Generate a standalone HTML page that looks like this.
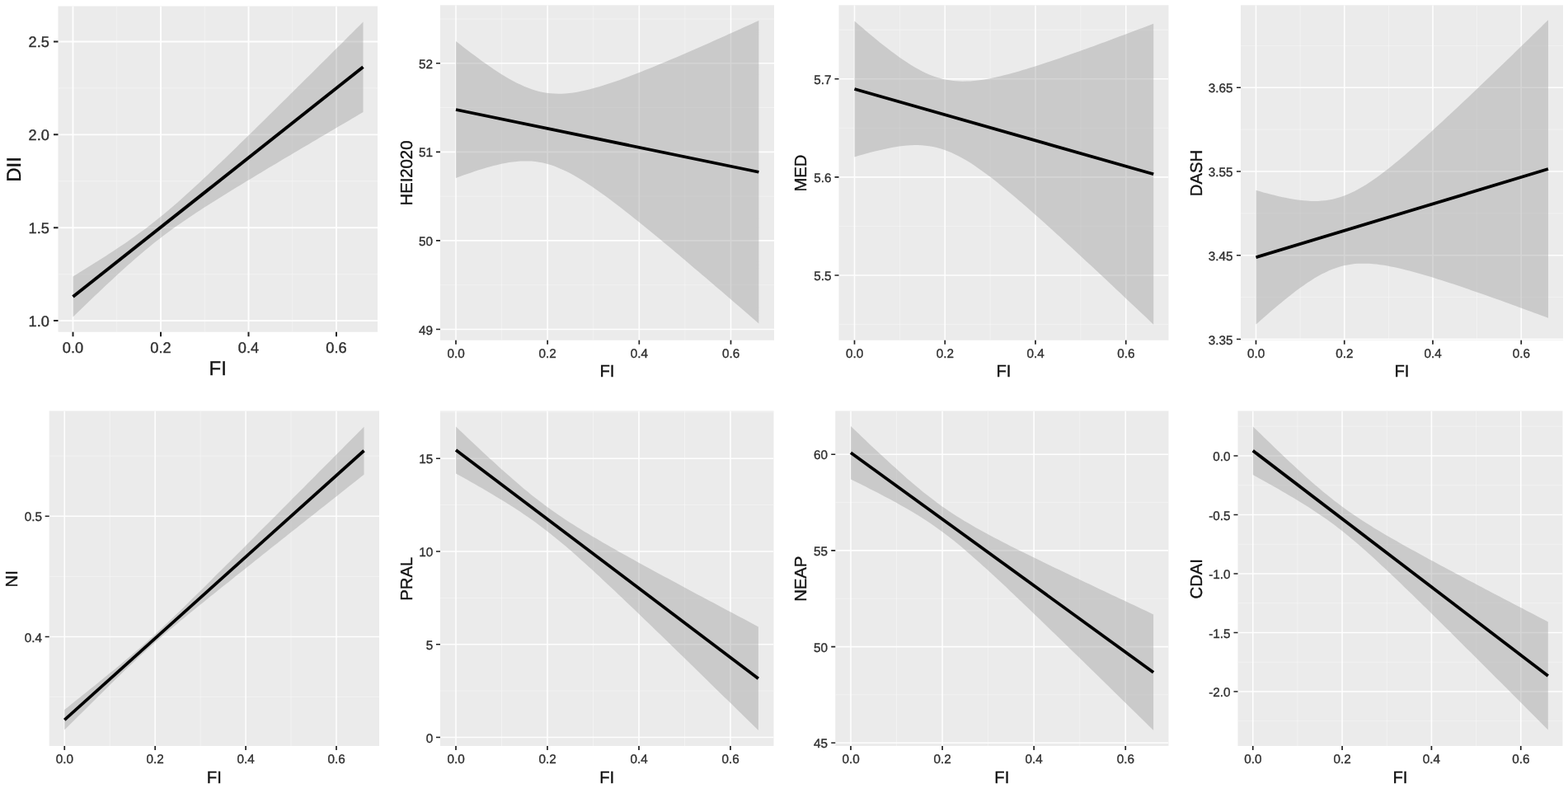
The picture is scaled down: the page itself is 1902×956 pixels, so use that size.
<!DOCTYPE html>
<html lang="en">
<head>
<meta charset="utf-8">
<title>Association between FI and dietary indices</title>
<style>
html,body{margin:0;padding:0;background:#fff;}
body{width:1902px;height:956px;overflow:hidden;}
svg{display:block;font-family:"Liberation Sans",Arial,Helvetica,sans-serif;text-rendering:geometricPrecision;}
</style>
</head>
<body>
<svg width="1902" height="956" viewBox="0 0 1902 956">
<rect width="1902" height="956" fill="#fff"/>
<clipPath id="c0"><rect x="70.5" y="7.5" width="387.5" height="395.25"/></clipPath>
<rect x="70.5" y="7.5" width="387.5" height="395.25" fill="#ebebeb"/>
<g clip-path="url(#c0)">
<path d="M141.75 7.5V402.75M248.25 7.5V402.75M354.75 7.5V402.75M70.5 332.67H458M70.5 219.8H458M70.5 106.93H458" stroke="#fff" stroke-opacity="0.35" stroke-width="1" fill="none"/>
<path d="M88.5 7.5V402.75M195 7.5V402.75M301.5 7.5V402.75M408 7.5V402.75M70.5 389.1H458M70.5 276.23H458M70.5 163.37H458M70.5 50.5H458" stroke="#fff" stroke-opacity="0.92" stroke-width="1.9" fill="none"/>
<polygon points="88.5,335.4 92.9,332.7 97.3,330.0 101.7,327.3 106.1,324.6 110.5,321.8 114.9,319.1 119.3,316.3 123.7,313.5 128.1,310.7 132.5,307.8 136.9,305.0 141.3,302.1 145.7,299.1 150.1,296.2 154.5,293.2 158.9,290.1 163.3,287.0 167.7,283.8 172.1,280.6 176.5,277.4 180.9,274.0 185.3,270.6 189.7,267.1 194.1,263.6 198.5,260.0 202.9,256.3 207.3,252.6 211.7,248.8 216.1,244.9 220.5,241.0 224.9,237.1 229.3,233.1 233.7,229.1 238.1,225.0 242.5,220.9 246.9,216.8 251.3,212.7 255.7,208.5 260.1,204.3 264.5,200.1 268.9,195.9 273.3,191.7 277.7,187.4 282.1,183.2 286.5,178.9 290.9,174.6 295.3,170.3 299.7,166.0 304.1,161.7 308.5,157.4 312.9,153.1 317.3,148.8 321.7,144.4 326.1,140.1 330.5,135.8 334.9,131.4 339.3,127.1 343.7,122.7 348.1,118.4 352.5,114.0 356.9,109.7 361.3,105.3 365.7,101.0 370.1,96.6 374.5,92.2 378.9,87.9 383.3,83.5 387.7,79.1 392.1,74.7 396.5,70.4 400.9,66.0 405.3,61.6 409.7,57.2 414.1,52.9 418.5,48.5 422.9,44.1 427.3,39.7 431.7,35.3 436.1,30.9 440.5,26.6 440.5,136.1 436.1,138.6 431.7,141.2 427.3,143.8 422.9,146.4 418.5,149.0 414.1,151.5 409.7,154.1 405.3,156.7 400.9,159.3 396.5,161.9 392.1,164.5 387.7,167.1 383.3,169.7 378.9,172.3 374.5,174.9 370.1,177.5 365.7,180.1 361.3,182.7 356.9,185.3 352.5,187.9 348.1,190.5 343.7,193.1 339.3,195.8 334.9,198.4 330.5,201.0 326.1,203.6 321.7,206.3 317.3,208.9 312.9,211.6 308.5,214.2 304.1,216.9 299.7,219.5 295.3,222.2 290.9,224.9 286.5,227.6 282.1,230.3 277.7,233.0 273.3,235.7 268.9,238.4 264.5,241.2 260.1,243.9 255.7,246.7 251.3,249.5 246.9,252.3 242.5,255.2 238.1,258.1 233.7,261.0 229.3,263.9 224.9,266.9 220.5,269.9 216.1,273.0 211.7,276.1 207.3,279.3 202.9,282.5 198.5,285.8 194.1,289.2 189.7,292.6 185.3,296.1 180.9,299.7 176.5,303.3 172.1,307.0 167.7,310.7 163.3,314.6 158.9,318.4 154.5,322.3 150.1,326.3 145.7,330.3 141.3,334.3 136.9,338.4 132.5,342.5 128.1,346.6 123.7,350.8 119.3,354.9 114.9,359.1 110.5,363.3 106.1,367.6 101.7,371.8 97.3,376.1 92.9,380.3 88.5,384.6" fill="#999" fill-opacity="0.4"/>
<line x1="88.5" y1="360" x2="440.48" y2="81.3" stroke="#000" stroke-width="4.0"/>
</g>
<path d="M88.5 402.75v5.5M195 402.75v5.5M301.5 402.75v5.5M408 402.75v5.5M70.5 389.1h-5.5M70.5 276.23h-5.5M70.5 163.37h-5.5M70.5 50.5h-5.5" stroke="#222" stroke-width="2.0" fill="none"/>
<g font-size="18.2" fill="#2e2e2e" stroke="#2e2e2e" stroke-width="0.35">
<text transform="translate(88.5 427.5)" text-anchor="middle">0.0</text>
<text transform="translate(195 427.5)" text-anchor="middle">0.2</text>
<text transform="translate(301.5 427.5)" text-anchor="middle">0.4</text>
<text transform="translate(408 427.5)" text-anchor="middle">0.6</text>
<text transform="translate(59.88 396)" text-anchor="end">1.0</text>
<text transform="translate(59.88 283.13)" text-anchor="end">1.5</text>
<text transform="translate(59.88 170.27)" text-anchor="end">2.0</text>
<text transform="translate(59.88 57.4)" text-anchor="end">2.5</text>
</g>
<text transform="translate(264.25 454.5)" text-anchor="middle" font-size="24" stroke="#111" stroke-width="0.35" fill="#111">FI</text>
<text transform="translate(25.3 205.43) rotate(-90)" text-anchor="middle" font-size="24" stroke="#111" stroke-width="0.35" fill="#111">DII</text>
<clipPath id="c1"><rect x="534" y="6.25" width="405" height="406.55"/></clipPath>
<rect x="534" y="6.25" width="405" height="406.55" fill="#ebebeb"/>
<g clip-path="url(#c1)">
<path d="M608.58 6.25V412.8M719.75 6.25V412.8M830.92 6.25V412.8M534 345.71H939M534 238.12H939M534 130.54H939M534 22.96H939" stroke="#fff" stroke-opacity="0.35" stroke-width="1" fill="none"/>
<path d="M553 6.25V412.8M664.17 6.25V412.8M775.33 6.25V412.8M886.5 6.25V412.8M534 399.5H939M534 291.92H939M534 184.33H939M534 76.75H939" stroke="#fff" stroke-opacity="0.92" stroke-width="1.6" fill="none"/>
<polygon points="553.0,50.0 557.6,53.6 562.2,57.2 566.8,60.7 571.4,64.2 576.0,67.6 580.6,71.0 585.1,74.4 589.7,77.6 594.3,80.8 598.9,83.9 603.5,87.0 608.1,89.9 612.7,92.7 617.3,95.4 621.9,98.0 626.5,100.4 631.1,102.6 635.7,104.7 640.3,106.6 644.9,108.2 649.4,109.7 654.0,110.9 658.6,111.9 663.2,112.7 667.8,113.3 672.4,113.6 677.0,113.7 681.6,113.7 686.2,113.4 690.8,113.0 695.4,112.4 700.0,111.7 704.6,110.8 709.1,109.8 713.7,108.8 718.3,107.6 722.9,106.3 727.5,105.0 732.1,103.6 736.7,102.1 741.3,100.6 745.9,99.0 750.5,97.4 755.1,95.7 759.7,94.0 764.3,92.3 768.9,90.6 773.4,88.8 778.0,87.0 782.6,85.1 787.2,83.3 791.8,81.4 796.4,79.5 801.0,77.6 805.6,75.7 810.2,73.8 814.8,71.8 819.4,69.9 824.0,67.9 828.6,65.9 833.1,63.9 837.7,61.9 842.3,59.9 846.9,57.9 851.5,55.9 856.1,53.9 860.7,51.9 865.3,49.8 869.9,47.8 874.5,45.7 879.1,43.7 883.7,41.6 888.3,39.5 892.9,37.5 897.4,35.4 902.0,33.3 906.6,31.3 911.2,29.2 915.8,27.1 920.4,25.0 920.4,392.5 915.8,388.5 911.2,384.5 906.6,380.6 902.0,376.6 897.4,372.6 892.9,368.7 888.3,364.7 883.7,360.7 879.1,356.8 874.5,352.8 869.9,348.9 865.3,345.0 860.7,341.0 856.1,337.1 851.5,333.2 846.9,329.3 842.3,325.4 837.7,321.5 833.1,317.6 828.6,313.7 824.0,309.8 819.4,306.0 814.8,302.1 810.2,298.3 805.6,294.4 801.0,290.6 796.4,286.8 791.8,283.1 787.2,279.3 782.6,275.5 778.0,271.8 773.4,268.1 768.9,264.4 764.3,260.8 759.7,257.2 755.1,253.6 750.5,250.0 745.9,246.5 741.3,243.1 736.7,239.6 732.1,236.3 727.5,233.0 722.9,229.8 718.3,226.6 713.7,223.5 709.1,220.6 704.6,217.7 700.0,214.9 695.4,212.3 690.8,209.8 686.2,207.5 681.6,205.4 677.0,203.4 672.4,201.6 667.8,200.1 663.2,198.7 658.6,197.6 654.0,196.7 649.4,196.1 644.9,195.6 640.3,195.4 635.7,195.4 631.1,195.6 626.5,195.9 621.9,196.4 617.3,197.1 612.7,197.9 608.1,198.8 603.5,199.9 598.9,201.0 594.3,202.2 589.7,203.5 585.1,204.9 580.6,206.3 576.0,207.8 571.4,209.4 566.8,211.0 562.2,212.6 557.6,214.3 553.0,216.0" fill="#999" fill-opacity="0.4"/>
<line x1="553" y1="133" x2="920.41" y2="208.75" stroke="#000" stroke-width="3.8"/>
</g>
<path d="M553 412.8v5M664.17 412.8v5M775.33 412.8v5M886.5 412.8v5M534 399.5h-5M534 291.92h-5M534 184.33h-5M534 76.75h-5" stroke="#222" stroke-width="1.7" fill="none"/>
<g font-size="15.3" fill="#2e2e2e" stroke="#2e2e2e" stroke-width="0.35">
<text transform="translate(553 433.9)" text-anchor="middle">0.0</text>
<text transform="translate(664.17 433.9)" text-anchor="middle">0.2</text>
<text transform="translate(775.33 433.9)" text-anchor="middle">0.4</text>
<text transform="translate(886.5 433.9)" text-anchor="middle">0.6</text>
<text transform="translate(525.11 405.5)" text-anchor="end">49</text>
<text transform="translate(525.11 297.92)" text-anchor="end">50</text>
<text transform="translate(525.11 190.33)" text-anchor="end">51</text>
<text transform="translate(525.11 82.75)" text-anchor="end">52</text>
</g>
<text transform="translate(736.5 457.25)" text-anchor="middle" font-size="20.3" stroke="#111" stroke-width="0.35" fill="#111">FI</text>
<text transform="translate(500.25 210.03) rotate(-90)" text-anchor="middle" font-size="20.3" stroke="#111" stroke-width="0.35" fill="#111">HEI2020</text>
<clipPath id="c2"><rect x="1017.5" y="6.25" width="400" height="406.55"/></clipPath>
<rect x="1017.5" y="6.25" width="400" height="406.55" fill="#ebebeb"/>
<g clip-path="url(#c2)">
<path d="M1091.38 6.25V412.8M1201.12 6.25V412.8M1310.88 6.25V412.8M1017.5 393.56H1417.5M1017.5 274.44H1417.5M1017.5 155.31H1417.5M1017.5 36.19H1417.5" stroke="#fff" stroke-opacity="0.35" stroke-width="1" fill="none"/>
<path d="M1036.5 6.25V412.8M1146.25 6.25V412.8M1256 6.25V412.8M1365.75 6.25V412.8M1017.5 334H1417.5M1017.5 214.88H1417.5M1017.5 95.75H1417.5" stroke="#fff" stroke-opacity="0.92" stroke-width="1.6" fill="none"/>
<polygon points="1036.5,25.5 1041.0,29.4 1045.6,33.3 1050.1,37.2 1054.6,41.0 1059.2,44.8 1063.7,48.5 1068.2,52.2 1072.8,55.8 1077.3,59.3 1081.8,62.7 1086.4,66.1 1090.9,69.4 1095.4,72.5 1100.0,75.5 1104.5,78.4 1109.0,81.2 1113.6,83.7 1118.1,86.2 1122.6,88.4 1127.2,90.4 1131.7,92.2 1136.2,93.8 1140.8,95.1 1145.3,96.2 1149.9,97.1 1154.4,97.8 1158.9,98.3 1163.5,98.6 1168.0,98.7 1172.5,98.6 1177.1,98.4 1181.6,98.0 1186.1,97.5 1190.7,96.9 1195.2,96.2 1199.7,95.4 1204.3,94.5 1208.8,93.5 1213.3,92.4 1217.9,91.3 1222.4,90.2 1226.9,89.0 1231.5,87.7 1236.0,86.4 1240.5,85.1 1245.1,83.7 1249.6,82.3 1254.1,80.9 1258.7,79.5 1263.2,78.0 1267.7,76.5 1272.3,75.0 1276.8,73.5 1281.3,71.9 1285.9,70.4 1290.4,68.8 1294.9,67.2 1299.5,65.6 1304.0,64.0 1308.5,62.4 1313.1,60.8 1317.6,59.2 1322.1,57.5 1326.7,55.9 1331.2,54.2 1335.7,52.5 1340.3,50.9 1344.8,49.2 1349.3,47.5 1353.9,45.8 1358.4,44.1 1363.0,42.4 1367.5,40.7 1372.0,39.0 1376.6,37.3 1381.1,35.6 1385.6,33.9 1390.2,32.2 1394.7,30.5 1399.2,28.8 1399.2,393.8 1394.7,389.4 1390.2,385.1 1385.6,380.8 1381.1,376.5 1376.6,372.3 1372.0,368.0 1367.5,363.7 1363.0,359.4 1358.4,355.1 1353.9,350.9 1349.3,346.6 1344.8,342.3 1340.3,338.1 1335.7,333.8 1331.2,329.6 1326.7,325.3 1322.1,321.1 1317.6,316.9 1313.1,312.7 1308.5,308.5 1304.0,304.3 1299.5,300.1 1294.9,295.9 1290.4,291.7 1285.9,287.6 1281.3,283.5 1276.8,279.3 1272.3,275.2 1267.7,271.1 1263.2,267.1 1258.7,263.0 1254.1,259.0 1249.6,255.0 1245.1,251.0 1240.5,247.1 1236.0,243.2 1231.5,239.3 1226.9,235.4 1222.4,231.7 1217.9,227.9 1213.3,224.2 1208.8,220.6 1204.3,217.0 1199.7,213.6 1195.2,210.2 1190.7,206.9 1186.1,203.7 1181.6,200.6 1177.1,197.6 1172.5,194.8 1168.0,192.2 1163.5,189.7 1158.9,187.4 1154.4,185.3 1149.9,183.4 1145.3,181.7 1140.8,180.3 1136.2,179.0 1131.7,178.0 1127.2,177.2 1122.6,176.7 1118.1,176.3 1113.6,176.1 1109.0,176.1 1104.5,176.3 1100.0,176.6 1095.4,177.1 1090.9,177.6 1086.4,178.3 1081.8,179.1 1077.3,179.9 1072.8,180.9 1068.2,181.9 1063.7,183.0 1059.2,184.1 1054.6,185.3 1050.1,186.6 1045.6,187.8 1041.0,189.1 1036.5,190.5" fill="#999" fill-opacity="0.4"/>
<line x1="1036.5" y1="108" x2="1399.22" y2="211.25" stroke="#000" stroke-width="3.8"/>
</g>
<path d="M1036.5 412.8v5M1146.25 412.8v5M1256 412.8v5M1365.75 412.8v5M1017.5 334h-5M1017.5 214.88h-5M1017.5 95.75h-5" stroke="#222" stroke-width="1.7" fill="none"/>
<g font-size="15.3" fill="#2e2e2e" stroke="#2e2e2e" stroke-width="0.35">
<text transform="translate(1036.5 433.9)" text-anchor="middle">0.0</text>
<text transform="translate(1146.25 433.9)" text-anchor="middle">0.2</text>
<text transform="translate(1256 433.9)" text-anchor="middle">0.4</text>
<text transform="translate(1365.75 433.9)" text-anchor="middle">0.6</text>
<text transform="translate(1008.41 340)" text-anchor="end">5.5</text>
<text transform="translate(1008.41 220.88)" text-anchor="end">5.6</text>
<text transform="translate(1008.41 101.75)" text-anchor="end">5.7</text>
</g>
<text transform="translate(1217.5 457.25)" text-anchor="middle" font-size="20.3" stroke="#111" stroke-width="0.35" fill="#111">FI</text>
<text transform="translate(978.25 210.03) rotate(-90)" text-anchor="middle" font-size="20.3" stroke="#111" stroke-width="0.35" fill="#111">MED</text>
<clipPath id="c3"><rect x="1505" y="6.25" width="391" height="406.55"/></clipPath>
<rect x="1505" y="6.25" width="391" height="406.55" fill="#ebebeb"/>
<g clip-path="url(#c3)">
<path d="M1577.12 6.25V412.8M1684.38 6.25V412.8M1791.62 6.25V412.8M1505 360.63H1896M1505 258.88H1896M1505 157.12H1896M1505 55.37H1896" stroke="#fff" stroke-opacity="0.35" stroke-width="1" fill="none"/>
<path d="M1523.5 6.25V412.8M1630.75 6.25V412.8M1738 6.25V412.8M1845.25 6.25V412.8M1505 411.5H1896M1505 309.75H1896M1505 208H1896M1505 106.25H1896" stroke="#fff" stroke-opacity="0.92" stroke-width="1.6" fill="none"/>
<polygon points="1523.5,230.8 1527.9,232.1 1532.4,233.4 1536.8,234.6 1541.2,235.7 1545.7,236.8 1550.1,237.9 1554.5,238.9 1558.9,239.8 1563.4,240.7 1567.8,241.5 1572.2,242.2 1576.7,242.8 1581.1,243.3 1585.5,243.6 1590.0,243.9 1594.4,244.0 1598.8,243.9 1603.3,243.6 1607.7,243.2 1612.1,242.5 1616.5,241.7 1621.0,240.6 1625.4,239.3 1629.8,237.8 1634.3,236.1 1638.7,234.1 1643.1,232.0 1647.6,229.6 1652.0,227.1 1656.4,224.4 1660.9,221.5 1665.3,218.5 1669.7,215.4 1674.1,212.2 1678.6,208.8 1683.0,205.4 1687.4,201.9 1691.9,198.3 1696.3,194.7 1700.7,190.9 1705.2,187.2 1709.6,183.3 1714.0,179.5 1718.5,175.6 1722.9,171.6 1727.3,167.7 1731.7,163.7 1736.2,159.7 1740.6,155.6 1745.0,151.5 1749.5,147.4 1753.9,143.3 1758.3,139.2 1762.8,135.1 1767.2,130.9 1771.6,126.7 1776.1,122.6 1780.5,118.4 1784.9,114.2 1789.3,109.9 1793.8,105.7 1798.2,101.5 1802.6,97.2 1807.1,93.0 1811.5,88.7 1815.9,84.5 1820.4,80.2 1824.8,75.9 1829.2,71.7 1833.7,67.4 1838.1,63.1 1842.5,58.8 1846.9,54.5 1851.4,50.2 1855.8,45.9 1860.2,41.6 1864.7,37.3 1869.1,32.9 1873.5,28.6 1878.0,24.3 1878.0,385.7 1873.5,384.1 1869.1,382.4 1864.7,380.8 1860.2,379.2 1855.8,377.5 1851.4,375.9 1846.9,374.3 1842.5,372.7 1838.1,371.0 1833.7,369.4 1829.2,367.8 1824.8,366.2 1820.4,364.6 1815.9,363.1 1811.5,361.5 1807.1,359.9 1802.6,358.3 1798.2,356.8 1793.8,355.2 1789.3,353.7 1784.9,352.2 1780.5,350.6 1776.1,349.1 1771.6,347.6 1767.2,346.1 1762.8,344.6 1758.3,343.2 1753.9,341.7 1749.5,340.3 1745.0,338.9 1740.6,337.5 1736.2,336.1 1731.7,334.8 1727.3,333.5 1722.9,332.2 1718.5,330.9 1714.0,329.7 1709.6,328.5 1705.2,327.4 1700.7,326.3 1696.3,325.3 1691.9,324.3 1687.4,323.4 1683.0,322.6 1678.6,321.8 1674.1,321.2 1669.7,320.6 1665.3,320.2 1660.9,319.8 1656.4,319.7 1652.0,319.7 1647.6,319.8 1643.1,320.1 1638.7,320.7 1634.3,321.4 1629.8,322.3 1625.4,323.5 1621.0,324.9 1616.5,326.5 1612.1,328.3 1607.7,330.4 1603.3,332.6 1598.8,335.0 1594.4,337.6 1590.0,340.4 1585.5,343.3 1581.1,346.4 1576.7,349.6 1572.2,352.8 1567.8,356.2 1563.4,359.7 1558.9,363.2 1554.5,366.9 1550.1,370.5 1545.7,374.3 1541.2,378.1 1536.8,381.9 1532.4,385.8 1527.9,389.7 1523.5,393.6" fill="#999" fill-opacity="0.4"/>
<line x1="1523.5" y1="312.25" x2="1877.96" y2="205" stroke="#000" stroke-width="3.8"/>
</g>
<path d="M1523.5 412.8v5M1630.75 412.8v5M1738 412.8v5M1845.25 412.8v5M1505 411.5h-5M1505 309.75h-5M1505 208h-5M1505 106.25h-5" stroke="#222" stroke-width="1.7" fill="none"/>
<g font-size="15.3" fill="#2e2e2e" stroke="#2e2e2e" stroke-width="0.35">
<text transform="translate(1523.5 433.9)" text-anchor="middle">0.0</text>
<text transform="translate(1630.75 433.9)" text-anchor="middle">0.2</text>
<text transform="translate(1738 433.9)" text-anchor="middle">0.4</text>
<text transform="translate(1845.25 433.9)" text-anchor="middle">0.6</text>
<text transform="translate(1495.61 417.5)" text-anchor="end">3.35</text>
<text transform="translate(1495.61 315.75)" text-anchor="end">3.45</text>
<text transform="translate(1495.61 214)" text-anchor="end">3.55</text>
<text transform="translate(1495.61 112.25)" text-anchor="end">3.65</text>
</g>
<text transform="translate(1700.5 457.25)" text-anchor="middle" font-size="20.3" stroke="#111" stroke-width="0.35" fill="#111">FI</text>
<text transform="translate(1458 210.03) rotate(-90)" text-anchor="middle" font-size="20.3" stroke="#111" stroke-width="0.35" fill="#111">DASH</text>
<clipPath id="c4"><rect x="59.7" y="498.5" width="400.3" height="406.5"/></clipPath>
<rect x="59.7" y="498.5" width="400.3" height="406.5" fill="#ebebeb"/>
<g clip-path="url(#c4)">
<path d="M133.21 498.5V905M243.13 498.5V905M353.04 498.5V905M59.7 845.62H460M59.7 699.38H460M59.7 553.12H460" stroke="#fff" stroke-opacity="0.35" stroke-width="1" fill="none"/>
<path d="M78.25 498.5V905M188.17 498.5V905M298.08 498.5V905M408 498.5V905M59.7 772.5H460M59.7 626.25H460" stroke="#fff" stroke-opacity="0.92" stroke-width="1.6" fill="none"/>
<polygon points="78.2,861.0 82.8,857.4 87.3,853.7 91.9,850.1 96.4,846.5 101.0,842.8 105.5,839.2 110.0,835.5 114.6,831.9 119.1,828.2 123.7,824.5 128.2,820.8 132.7,817.1 137.3,813.4 141.8,809.7 146.4,805.9 150.9,802.1 155.4,798.3 160.0,794.5 164.5,790.6 169.1,786.7 173.6,782.7 178.2,778.7 182.7,774.6 187.2,770.5 191.8,766.3 196.3,762.1 200.9,757.8 205.4,753.5 209.9,749.2 214.5,744.8 219.0,740.4 223.6,736.0 228.1,731.6 232.6,727.1 237.2,722.6 241.7,718.2 246.3,713.7 250.8,709.2 255.3,704.7 259.9,700.1 264.4,695.6 269.0,691.1 273.5,686.6 278.1,682.0 282.6,677.5 287.1,673.0 291.7,668.4 296.2,663.9 300.8,659.3 305.3,654.8 309.8,650.2 314.4,645.6 318.9,641.1 323.5,636.5 328.0,632.0 332.5,627.4 337.1,622.9 341.6,618.3 346.2,613.7 350.7,609.2 355.2,604.6 359.8,600.0 364.3,595.5 368.9,590.9 373.4,586.3 378.0,581.8 382.5,577.2 387.0,572.6 391.6,568.0 396.1,563.5 400.7,558.9 405.2,554.3 409.7,549.8 414.3,545.2 418.8,540.6 423.4,536.0 427.9,531.5 432.4,526.9 437.0,522.3 441.5,517.8 441.5,575.8 437.0,579.3 432.4,582.9 427.9,586.5 423.4,590.1 418.8,593.7 414.3,597.3 409.7,600.9 405.2,604.5 400.7,608.1 396.1,611.7 391.6,615.3 387.0,618.8 382.5,622.4 378.0,626.0 373.4,629.6 368.9,633.2 364.3,636.8 359.8,640.4 355.2,644.0 350.7,647.6 346.2,651.2 341.6,654.8 337.1,658.4 332.5,662.0 328.0,665.6 323.5,669.2 318.9,672.8 314.4,676.4 309.8,680.0 305.3,683.7 300.8,687.3 296.2,690.9 291.7,694.5 287.1,698.1 282.6,701.7 278.1,705.4 273.5,709.0 269.0,712.6 264.4,716.3 259.9,719.9 255.3,723.6 250.8,727.2 246.3,730.9 241.7,734.5 237.2,738.2 232.6,741.9 228.1,745.6 223.6,749.4 219.0,753.1 214.5,756.9 209.9,760.7 205.4,764.5 200.9,768.3 196.3,772.2 191.8,776.2 187.2,780.2 182.7,784.2 178.2,788.3 173.6,792.5 169.1,796.6 164.5,800.9 160.0,805.2 155.4,809.5 150.9,813.8 146.4,818.2 141.8,822.6 137.3,827.1 132.7,831.5 128.2,836.0 123.7,840.4 119.1,844.9 114.6,849.4 110.0,853.9 105.5,858.4 101.0,862.9 96.4,867.5 91.9,872.0 87.3,876.5 82.8,881.1 78.2,885.6" fill="#999" fill-opacity="0.4"/>
<line x1="78.25" y1="873.3" x2="441.52" y2="546.75" stroke="#000" stroke-width="3.7"/>
</g>
<path d="M78.25 905v5M188.17 905v5M298.08 905v5M408 905v5M59.7 772.5h-5M59.7 626.25h-5" stroke="#222" stroke-width="1.7" fill="none"/>
<g font-size="15.3" fill="#2e2e2e" stroke="#2e2e2e" stroke-width="0.35">
<text transform="translate(78.25 926.15)" text-anchor="middle">0.0</text>
<text transform="translate(188.17 926.15)" text-anchor="middle">0.2</text>
<text transform="translate(298.08 926.15)" text-anchor="middle">0.4</text>
<text transform="translate(408 926.15)" text-anchor="middle">0.6</text>
<text transform="translate(51.11 778.5)" text-anchor="end">0.4</text>
<text transform="translate(51.11 632.25)" text-anchor="end">0.5</text>
</g>
<text transform="translate(259.85 949.5)" text-anchor="middle" font-size="20.3" stroke="#111" stroke-width="0.35" fill="#111">FI</text>
<text transform="translate(21.25 702.25) rotate(-90)" text-anchor="middle" font-size="20.3" stroke="#111" stroke-width="0.35" fill="#111">NI</text>
<clipPath id="c5"><rect x="534" y="498.5" width="404.5" height="406.5"/></clipPath>
<rect x="534" y="498.5" width="404.5" height="406.5" fill="#ebebeb"/>
<g clip-path="url(#c5)">
<path d="M608.5 498.5V905M719.5 498.5V905M830.5 498.5V905M534 838.12H938.5M534 725.38H938.5M534 612.62H938.5M534 499.88H938.5" stroke="#fff" stroke-opacity="0.35" stroke-width="1" fill="none"/>
<path d="M553 498.5V905M664 498.5V905M775 498.5V905M886 498.5V905M534 894.5H938.5M534 781.75H938.5M534 669H938.5M534 556.25H938.5" stroke="#fff" stroke-opacity="0.92" stroke-width="1.6" fill="none"/>
<polygon points="553.0,517.6 557.6,522.0 562.2,526.3 566.8,530.7 571.3,535.0 575.9,539.3 580.5,543.6 585.1,547.9 589.7,552.2 594.3,556.4 598.9,560.6 603.4,564.8 608.0,569.0 612.6,573.1 617.2,577.1 621.8,581.1 626.4,585.1 631.0,589.0 635.5,592.9 640.1,596.6 644.7,600.4 649.3,604.0 653.9,607.6 658.5,611.0 663.1,614.5 667.6,617.8 672.2,621.0 676.8,624.2 681.4,627.3 686.0,630.4 690.6,633.4 695.2,636.3 699.7,639.2 704.3,642.1 708.9,644.9 713.5,647.6 718.1,650.4 722.7,653.1 727.3,655.8 731.8,658.4 736.4,661.1 741.0,663.7 745.6,666.3 750.2,668.9 754.8,671.5 759.4,674.0 763.9,676.6 768.5,679.1 773.1,681.7 777.7,684.2 782.3,686.7 786.9,689.2 791.5,691.7 796.0,694.2 800.6,696.7 805.2,699.2 809.8,701.6 814.4,704.1 819.0,706.6 823.6,709.1 828.1,711.5 832.7,714.0 837.3,716.4 841.9,718.9 846.5,721.4 851.1,723.8 855.7,726.3 860.2,728.7 864.8,731.1 869.4,733.6 874.0,736.0 878.6,738.5 883.2,740.9 887.8,743.3 892.3,745.8 896.9,748.2 901.5,750.6 906.1,753.1 910.7,755.5 915.3,757.9 919.9,760.4 919.9,886.1 915.3,881.6 910.7,877.1 906.1,872.6 901.5,868.1 896.9,863.6 892.3,859.1 887.8,854.6 883.2,850.1 878.6,845.7 874.0,841.2 869.4,836.7 864.8,832.2 860.2,827.7 855.7,823.2 851.1,818.7 846.5,814.2 841.9,809.8 837.3,805.3 832.7,800.8 828.1,796.3 823.6,791.9 819.0,787.4 814.4,783.0 809.8,778.5 805.2,774.1 800.6,769.6 796.0,765.2 791.5,760.7 786.9,756.3 782.3,751.9 777.7,747.5 773.1,743.0 768.5,738.6 763.9,734.3 759.4,729.9 754.8,725.5 750.2,721.2 745.6,716.8 741.0,712.5 736.4,708.2 731.8,703.9 727.3,699.6 722.7,695.4 718.1,691.1 713.5,686.9 708.9,682.8 704.3,678.7 699.7,674.6 695.2,670.5 690.6,666.5 686.0,662.6 681.4,658.7 676.8,654.9 672.2,651.2 667.6,647.5 663.1,643.9 658.5,640.4 653.9,636.9 649.3,633.6 644.7,630.3 640.1,627.0 635.5,623.9 631.0,620.8 626.4,617.8 621.8,614.8 617.2,611.9 612.6,609.0 608.0,606.2 603.4,603.4 598.9,600.7 594.3,598.0 589.7,595.3 585.1,592.6 580.5,589.9 575.9,587.3 571.3,584.7 566.8,582.1 562.2,579.5 557.6,577.0 553.0,574.4" fill="#999" fill-opacity="0.4"/>
<line x1="553" y1="546" x2="919.86" y2="823.25" stroke="#000" stroke-width="3.8"/>
</g>
<path d="M553 905v5M664 905v5M775 905v5M886 905v5M534 894.5h-5M534 781.75h-5M534 669h-5M534 556.25h-5" stroke="#222" stroke-width="1.7" fill="none"/>
<g font-size="15.3" fill="#2e2e2e" stroke="#2e2e2e" stroke-width="0.35">
<text transform="translate(553 926.15)" text-anchor="middle">0.0</text>
<text transform="translate(664 926.15)" text-anchor="middle">0.2</text>
<text transform="translate(775 926.15)" text-anchor="middle">0.4</text>
<text transform="translate(886 926.15)" text-anchor="middle">0.6</text>
<text transform="translate(525.31 900.5)" text-anchor="end">0</text>
<text transform="translate(525.31 787.75)" text-anchor="end">5</text>
<text transform="translate(525.31 675)" text-anchor="end">10</text>
<text transform="translate(525.31 562.25)" text-anchor="end">15</text>
</g>
<text transform="translate(736.25 949.5)" text-anchor="middle" font-size="20.3" stroke="#111" stroke-width="0.35" fill="#111">FI</text>
<text transform="translate(500.25 702.25) rotate(-90)" text-anchor="middle" font-size="20.3" stroke="#111" stroke-width="0.35" fill="#111">PRAL</text>
<clipPath id="c6"><rect x="1013.25" y="498.5" width="404.25" height="406.5"/></clipPath>
<rect x="1013.25" y="498.5" width="404.25" height="406.5" fill="#ebebeb"/>
<g clip-path="url(#c6)">
<path d="M1087.54 498.5V905M1198.62 498.5V905M1309.71 498.5V905M1013.25 842.92H1417.5M1013.25 726.25H1417.5M1013.25 609.58H1417.5" stroke="#fff" stroke-opacity="0.35" stroke-width="1" fill="none"/>
<path d="M1032 498.5V905M1143.08 498.5V905M1254.17 498.5V905M1365.25 498.5V905M1013.25 901.25H1417.5M1013.25 784.58H1417.5M1013.25 667.92H1417.5M1013.25 551.25H1417.5" stroke="#fff" stroke-opacity="0.92" stroke-width="1.6" fill="none"/>
<polygon points="1032.0,517.0 1036.6,521.4 1041.2,525.8 1045.8,530.2 1050.4,534.5 1054.9,538.9 1059.5,543.2 1064.1,547.5 1068.7,551.8 1073.3,556.1 1077.9,560.3 1082.5,564.5 1087.1,568.6 1091.7,572.8 1096.2,576.8 1100.8,580.9 1105.4,584.8 1110.0,588.7 1114.6,592.6 1119.2,596.4 1123.8,600.0 1128.4,603.6 1133.0,607.1 1137.5,610.6 1142.1,613.9 1146.7,617.1 1151.3,620.2 1155.9,623.3 1160.5,626.2 1165.1,629.1 1169.7,631.9 1174.3,634.6 1178.9,637.3 1183.4,639.9 1188.0,642.5 1192.6,645.0 1197.2,647.5 1201.8,650.0 1206.4,652.4 1211.0,654.8 1215.6,657.2 1220.2,659.5 1224.7,661.9 1229.3,664.2 1233.9,666.5 1238.5,668.8 1243.1,671.0 1247.7,673.3 1252.3,675.6 1256.9,677.8 1261.5,680.1 1266.0,682.3 1270.6,684.5 1275.2,686.7 1279.8,688.9 1284.4,691.1 1289.0,693.3 1293.6,695.5 1298.2,697.7 1302.8,699.9 1307.3,702.1 1311.9,704.3 1316.5,706.5 1321.1,708.6 1325.7,710.8 1330.3,713.0 1334.9,715.2 1339.5,717.3 1344.1,719.5 1348.6,721.7 1353.2,723.8 1357.8,726.0 1362.4,728.1 1367.0,730.3 1371.6,732.4 1376.2,734.6 1380.8,736.8 1385.4,738.9 1390.0,741.1 1394.5,743.2 1399.1,745.4 1399.1,886.1 1394.5,881.6 1390.0,877.1 1385.4,872.6 1380.8,868.1 1376.2,863.6 1371.6,859.1 1367.0,854.6 1362.4,850.1 1357.8,845.6 1353.2,841.1 1348.6,836.6 1344.1,832.1 1339.5,827.6 1334.9,823.1 1330.3,818.6 1325.7,814.1 1321.1,809.6 1316.5,805.1 1311.9,800.6 1307.3,796.1 1302.8,791.7 1298.2,787.2 1293.6,782.7 1289.0,778.3 1284.4,773.8 1279.8,769.3 1275.2,764.9 1270.6,760.4 1266.0,756.0 1261.5,751.6 1256.9,747.2 1252.3,742.7 1247.7,738.3 1243.1,733.9 1238.5,729.5 1233.9,725.2 1229.3,720.8 1224.7,716.5 1220.2,712.1 1215.6,707.8 1211.0,703.5 1206.4,699.3 1201.8,695.0 1197.2,690.8 1192.6,686.7 1188.0,682.5 1183.4,678.4 1178.9,674.4 1174.3,670.4 1169.7,666.5 1165.1,662.6 1160.5,658.8 1155.9,655.1 1151.3,651.5 1146.7,648.0 1142.1,644.5 1137.5,641.2 1133.0,637.9 1128.4,634.8 1123.8,631.7 1119.2,628.7 1114.6,625.8 1110.0,623.0 1105.4,620.3 1100.8,617.6 1096.2,614.9 1091.7,612.4 1087.1,609.8 1082.5,607.3 1077.9,604.8 1073.3,602.4 1068.7,600.0 1064.1,597.6 1059.5,595.3 1054.9,592.9 1050.4,590.6 1045.8,588.3 1041.2,586.0 1036.6,583.7 1032.0,581.5" fill="#999" fill-opacity="0.4"/>
<line x1="1032" y1="549.25" x2="1399.13" y2="815.75" stroke="#000" stroke-width="3.8"/>
</g>
<path d="M1032 905v5M1143.08 905v5M1254.17 905v5M1365.25 905v5M1013.25 901.25h-5M1013.25 784.58h-5M1013.25 667.92h-5M1013.25 551.25h-5" stroke="#222" stroke-width="1.7" fill="none"/>
<g font-size="15.3" fill="#2e2e2e" stroke="#2e2e2e" stroke-width="0.35">
<text transform="translate(1032 926.15)" text-anchor="middle">0.0</text>
<text transform="translate(1143.08 926.15)" text-anchor="middle">0.2</text>
<text transform="translate(1254.17 926.15)" text-anchor="middle">0.4</text>
<text transform="translate(1365.25 926.15)" text-anchor="middle">0.6</text>
<text transform="translate(1004.11 907.25)" text-anchor="end">45</text>
<text transform="translate(1004.11 790.58)" text-anchor="end">50</text>
<text transform="translate(1004.11 673.92)" text-anchor="end">55</text>
<text transform="translate(1004.11 557.25)" text-anchor="end">60</text>
</g>
<text transform="translate(1215.38 949.5)" text-anchor="middle" font-size="20.3" stroke="#111" stroke-width="0.35" fill="#111">FI</text>
<text transform="translate(978.25 702.25) rotate(-90)" text-anchor="middle" font-size="20.3" stroke="#111" stroke-width="0.35" fill="#111">NEAP</text>
<clipPath id="c7"><rect x="1501.5" y="498.5" width="394" height="406.5"/></clipPath>
<rect x="1501.5" y="498.5" width="394" height="406.5" fill="#ebebeb"/>
<g clip-path="url(#c7)">
<path d="M1573.92 498.5V905M1682.25 498.5V905M1790.58 498.5V905M1501.5 874.75H1895.5M1501.5 803.25H1895.5M1501.5 731.75H1895.5M1501.5 660.25H1895.5M1501.5 588.75H1895.5M1501.5 517.25H1895.5" stroke="#fff" stroke-opacity="0.35" stroke-width="1" fill="none"/>
<path d="M1519.75 498.5V905M1628.08 498.5V905M1736.42 498.5V905M1844.75 498.5V905M1501.5 839H1895.5M1501.5 767.5H1895.5M1501.5 696H1895.5M1501.5 624.5H1895.5M1501.5 553H1895.5" stroke="#fff" stroke-opacity="0.92" stroke-width="1.6" fill="none"/>
<polygon points="1519.8,517.4 1524.2,521.7 1528.7,526.1 1533.2,530.4 1537.7,534.8 1542.1,539.1 1546.6,543.4 1551.1,547.7 1555.6,552.0 1560.0,556.2 1564.5,560.4 1569.0,564.6 1573.5,568.7 1577.9,572.8 1582.4,576.9 1586.9,580.9 1591.4,584.9 1595.8,588.8 1600.3,592.6 1604.8,596.4 1609.3,600.0 1613.7,603.6 1618.2,607.2 1622.7,610.6 1627.2,614.0 1631.6,617.2 1636.1,620.4 1640.6,623.5 1645.1,626.6 1649.5,629.5 1654.0,632.5 1658.5,635.3 1663.0,638.1 1667.4,640.9 1671.9,643.6 1676.4,646.2 1680.9,648.9 1685.3,651.5 1689.8,654.1 1694.3,656.6 1698.8,659.2 1703.2,661.7 1707.7,664.2 1712.2,666.7 1716.7,669.1 1721.1,671.6 1725.6,674.1 1730.1,676.5 1734.6,678.9 1739.1,681.3 1743.5,683.8 1748.0,686.2 1752.5,688.6 1757.0,691.0 1761.4,693.3 1765.9,695.7 1770.4,698.1 1774.9,700.5 1779.3,702.9 1783.8,705.2 1788.3,707.6 1792.8,709.9 1797.2,712.3 1801.7,714.7 1806.2,717.0 1810.7,719.4 1815.1,721.7 1819.6,724.1 1824.1,726.4 1828.6,728.7 1833.0,731.1 1837.5,733.4 1842.0,735.8 1846.5,738.1 1850.9,740.4 1855.4,742.8 1859.9,745.1 1864.4,747.4 1868.8,749.7 1873.3,752.1 1877.8,754.4 1877.8,885.6 1873.3,881.1 1868.8,876.6 1864.4,872.1 1859.9,867.6 1855.4,863.1 1850.9,858.6 1846.5,854.1 1842.0,849.6 1837.5,845.1 1833.0,840.6 1828.6,836.1 1824.1,831.6 1819.6,827.1 1815.1,822.7 1810.7,818.2 1806.2,813.7 1801.7,809.2 1797.2,804.7 1792.8,800.3 1788.3,795.8 1783.8,791.3 1779.3,786.9 1774.9,782.4 1770.4,777.9 1765.9,773.5 1761.4,769.0 1757.0,764.6 1752.5,760.2 1748.0,755.7 1743.5,751.3 1739.1,746.9 1734.6,742.5 1730.1,738.1 1725.6,733.7 1721.1,729.3 1716.7,724.9 1712.2,720.6 1707.7,716.2 1703.2,711.9 1698.8,707.6 1694.3,703.3 1689.8,699.0 1685.3,694.8 1680.9,690.5 1676.4,686.4 1671.9,682.2 1667.4,678.1 1663.0,674.0 1658.5,670.0 1654.0,666.0 1649.5,662.1 1645.1,658.2 1640.6,654.4 1636.1,650.7 1631.6,647.0 1627.2,643.5 1622.7,640.0 1618.2,636.6 1613.7,633.3 1609.3,630.1 1604.8,626.9 1600.3,623.9 1595.8,620.9 1591.4,617.9 1586.9,615.1 1582.4,612.2 1577.9,609.5 1573.5,606.7 1569.0,604.1 1564.5,601.4 1560.0,598.8 1555.6,596.2 1551.1,593.6 1546.6,591.1 1542.1,588.5 1537.7,586.0 1533.2,583.5 1528.7,581.1 1524.2,578.6 1519.8,576.1" fill="#999" fill-opacity="0.4"/>
<line x1="1519.75" y1="546.75" x2="1877.79" y2="820" stroke="#000" stroke-width="3.8"/>
</g>
<path d="M1519.75 905v5M1628.08 905v5M1736.42 905v5M1844.75 905v5M1501.5 839h-5M1501.5 767.5h-5M1501.5 696h-5M1501.5 624.5h-5M1501.5 553h-5" stroke="#222" stroke-width="1.7" fill="none"/>
<g font-size="15.3" fill="#2e2e2e" stroke="#2e2e2e" stroke-width="0.35">
<text transform="translate(1519.75 926.15)" text-anchor="middle">0.0</text>
<text transform="translate(1628.08 926.15)" text-anchor="middle">0.2</text>
<text transform="translate(1736.42 926.15)" text-anchor="middle">0.4</text>
<text transform="translate(1844.75 926.15)" text-anchor="middle">0.6</text>
<text transform="translate(1492.51 845)" text-anchor="end">-2.0</text>
<text transform="translate(1492.51 773.5)" text-anchor="end">-1.5</text>
<text transform="translate(1492.51 702)" text-anchor="end">-1.0</text>
<text transform="translate(1492.51 630.5)" text-anchor="end">-0.5</text>
<text transform="translate(1492.51 559)" text-anchor="end">0.0</text>
</g>
<text transform="translate(1698.5 949.5)" text-anchor="middle" font-size="20.3" stroke="#111" stroke-width="0.35" fill="#111">FI</text>
<text transform="translate(1458 702.25) rotate(-90)" text-anchor="middle" font-size="20.3" stroke="#111" stroke-width="0.35" fill="#111">CDAI</text>
</svg>
</body>
</html>
